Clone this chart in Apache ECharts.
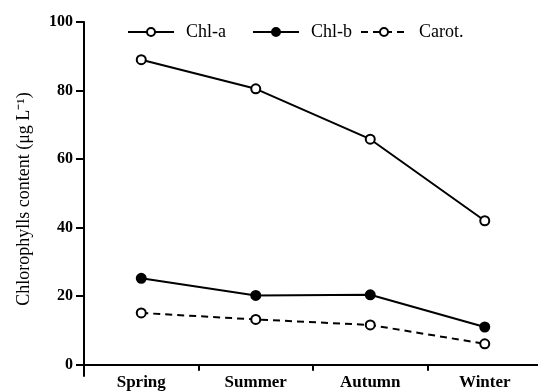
<!DOCTYPE html>
<html><head><meta charset="utf-8">
<script src="https://cdn.jsdelivr.net/npm/echarts@6/dist/echarts.min.js"></script>
<style>html,body{margin:0;padding:0;background:#fff}#c{width:538px;height:392px}</style>
</head><body><div id="c"></div>
<script>
const categories = ['Spring', 'Summer', 'Autumn', 'Winter'];
const chlA = [89.0, 80.5, 65.8, 42.0];
const chlB = [25.2, 20.2, 20.4, 11.0];
const carot = [15.1, 13.2, 11.6, 6.1];
const yTicks = [0, 20, 40, 60, 80, 100];
const seriesNames = ['Chl-a', 'Chl-b', 'Carot.'];

const FONT = '"Liberation Serif", "Times New Roman", serif';
const chart = echarts.init(document.getElementById('c'), null, {renderer: 'canvas'});
function mk(name, data, filled, dashed) {
  return {
    name, type: 'line', data,
    symbol: 'circle', symbolSize: 9,
    itemStyle: {color: filled ? '#000' : '#fff', borderColor: '#000', borderWidth: 2},
    lineStyle: {color: '#000', width: 2, type: dashed ? [7, 5] : 'solid'},
    emphasis: {disabled: true}, animation: false
  };
}
const legendBase = {
  top: 23, padding: 0, itemWidth: 46, itemHeight: 10, itemGap: 26,
  textStyle: {fontFamily: FONT, fontSize: 18, color: '#000', padding: [0, 0, 0, 7]}
};
chart.setOption({
  animation: false,
  grid: {left: 84, top: 22, width: 458, bottom: 16, containLabel: false, outerBoundsMode: 'none'},
  legend: [
    Object.assign({}, legendBase, {left: 127, data: seriesNames.slice(0, 2)}),
    Object.assign({}, legendBase, {left: 360, data: seriesNames.slice(2)})
  ],
  xAxis: {
    type: 'category', data: categories, boundaryGap: true,
    axisLine: {onZero: true, lineStyle: {color: '#000', width: 2}},
    axisTick: {show: true, inside: false, length: 6, lineStyle: {width: 2}, alignWithLabel: false},
    axisLabel: {fontFamily: FONT, fontWeight: 'bold', fontSize: 17, color: '#000', margin: 3, lineHeight: 8}
  },
  yAxis: {
    type: 'value', min: -3.3, max: 100,
    name: 'Chlorophylls content (μg L⁻¹)', nameLocation: 'middle', nameGap: 51,
    nameTextStyle: {fontFamily: FONT, fontSize: 18, color: '#000'},
    splitLine: {show: false},
    axisLine: {show: true, lineStyle: {color: '#000', width: 2}},
    axisTick: {show: true, length: 8, lineStyle: {width: 2}, customValues: yTicks},
    axisLabel: {fontFamily: FONT, fontWeight: 'bold', fontSize: 16, color: '#000', margin: 11, customValues: yTicks}
  },
  series: [mk(seriesNames[0], chlA, false, false), mk(seriesNames[1], chlB, true, false), mk(seriesNames[2], carot, false, true)]
});
</script></body></html>
